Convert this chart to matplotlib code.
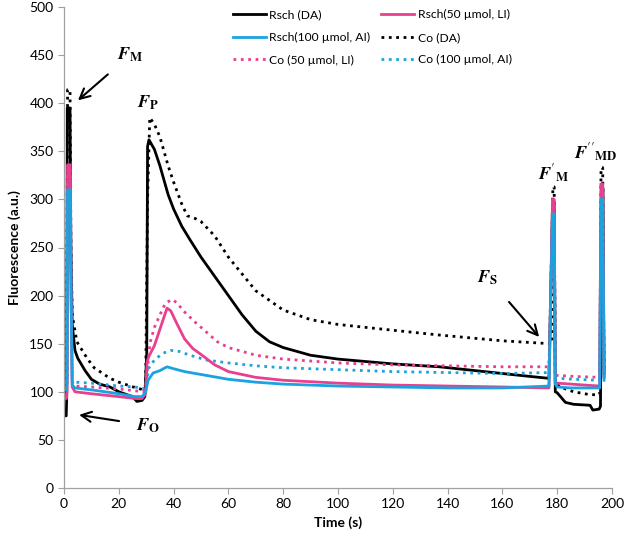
import matplotlib
matplotlib.use("Agg")
import matplotlib.pyplot as plt

plt.rcParams['font.family'] = ['Lato', 'DejaVu Sans']
plt.rcParams['mathtext.fontset'] = 'stix'

# ---- data (time in s, fluorescence in a.u.) ----
t_rsch_da = [0, 0.8, 1.0, 1.2, 2.2, 2.5, 3, 4, 5, 7.7, 10, 13, 16.8, 20, 25, 26.6, 28.5, 29.5, 30.2, 30.5, 31, 33, 35, 38, 40, 43, 46, 50, 55, 60, 65, 70, 75, 80, 90, 100, 120, 137, 160, 170, 177, 178.3, 178.9, 179.3, 180, 183, 186, 192, 193, 195.3, 195.8, 196.2, 196.7, 197.1]
y_rsch_da = [75, 75, 95, 395, 395, 250, 170, 143, 135, 122, 113, 108, 105, 100, 95, 90, 91, 95, 140, 355, 362, 352, 335, 305, 290, 272, 258, 240, 220, 200, 180, 163, 152, 146, 138, 134, 129, 126, 119, 116, 114, 295, 295, 100, 99, 89, 87, 86, 81, 82, 85, 312, 312, 120]

t_rsch_50 = [0, 0.9, 1.1, 1.3, 2.3, 2.6, 3, 4, 10, 20, 26, 28.5, 29.8, 30.3, 31, 33, 35, 37.6, 39, 41, 44, 47, 50.4, 55, 60, 70, 80, 100, 120, 140, 160, 177, 178.3, 178.9, 179.3, 180, 185, 190, 195.5, 196.0, 196.6, 197.1]
y_rsch_50 = [93, 93, 100, 336, 336, 200, 105, 100, 98, 95, 93, 93, 98, 131, 137, 148, 165, 187, 184, 172, 155, 145, 138, 128, 121, 115, 112, 109, 107, 106, 105, 104, 300, 300, 109, 109, 108, 107, 106, 316, 316, 115]

t_rsch_100 = [0, 0.9, 1.1, 1.3, 2.3, 2.6, 3, 4, 10, 20, 26, 28.5, 29.8, 30.7, 32.5, 35, 37.6, 40, 44, 48, 52, 60, 70, 80, 100, 120, 140, 160, 177, 178.3, 178.9, 179.3, 180, 185, 190, 195.5, 196.0, 196.6, 197.1]
y_rsch_100 = [102, 102, 110, 310, 310, 200, 107, 104, 102, 98, 95, 95, 100, 112, 119.5, 122, 126, 124, 121, 119, 117, 113, 110, 108, 106, 105, 104, 104, 106, 285, 285, 108, 105, 104, 104, 104, 300, 300, 112]

t_co_da = [0, 0.8, 1.0, 1.3, 2.2, 2.5, 3, 4.7, 8.4, 11, 16.8, 20, 25.3, 29, 29.8, 30.5, 31.3, 33, 35, 38, 40, 43, 45, 48, 50, 55, 60, 70, 80, 90, 100, 120, 137, 160, 177.5, 178.1, 178.4, 178.9, 179.3, 181, 186, 192, 195.5, 196.0, 196.6, 197.1]
y_co_da = [100, 100, 110, 414, 414, 260, 180, 152, 135, 125, 114, 110, 105, 102, 105, 300, 385, 378, 365, 335, 318, 295, 283, 280, 277, 262, 240, 205, 185, 175, 170, 164, 159, 153, 150, 150, 313, 313, 110, 105, 100, 97, 97, 333, 333, 118]

t_co_50 = [0, 0.9, 1.1, 1.3, 2.3, 2.6, 3, 4, 10, 20, 26, 29, 29.8, 31.4, 33, 35, 37, 39.4, 41, 44, 48, 52, 56, 60, 70, 80, 100, 120, 140, 160, 177, 178.3, 178.9, 179.3, 181, 186, 195.5, 196.0, 196.6, 197.1]
y_co_50 = [103, 103, 110, 330, 330, 200, 110, 106, 105, 103, 101, 100, 105, 151, 167, 180, 192, 196, 193, 183, 172, 162, 152, 146, 138, 134, 130, 128, 127, 126, 126, 298, 298, 117, 117, 116, 115, 318, 318, 115]

t_co_100 = [0, 0.9, 1.1, 1.3, 2.3, 2.6, 3, 4, 10, 20, 26, 29, 29.8, 31, 33, 36, 39, 42, 46, 52, 60, 70, 80, 100, 120, 140, 160, 177, 178.3, 178.9, 179.3, 181, 186, 195.5, 196.0, 196.6, 197.1]
y_co_100 = [110, 110, 115, 320, 320, 200, 112, 110, 109, 106, 105, 103, 107, 125, 133, 140, 143, 142, 138, 133, 130, 127, 125, 123, 121, 120, 119, 120, 290, 290, 114, 114, 113, 112, 305, 305, 114]

labels = ['Rsch (DA)', 'Rsch(50 µmol, LI)', 'Rsch(100 µmol, AI)',
          'Co (DA)', 'Co (50 µmol, LI)', 'Co (100 µmol, AI)']

PINK = '#E8408E'
BLUE = '#1BA3E0'

fig = plt.figure(figsize=(6.24, 5.38), dpi=100)
ax = fig.add_axes([64/624, 50/538, 548/624, 481/538])

lw = 2.0
h1, = ax.plot(t_rsch_da, y_rsch_da, color='black', lw=lw, label=labels[0])
h4, = ax.plot(t_co_da, y_co_da, color='black', lw=lw, ls=':', label=labels[3])
h5, = ax.plot(t_co_50, y_co_50, color=PINK, lw=lw, ls=':', label=labels[4])
h6, = ax.plot(t_co_100, y_co_100, color=BLUE, lw=lw, ls=':', label=labels[5])
h2, = ax.plot(t_rsch_50, y_rsch_50, color=PINK, lw=lw, label=labels[1])
h3, = ax.plot(t_rsch_100, y_rsch_100, color=BLUE, lw=lw, label=labels[2])

ax.set_xlim(0, 200)
ax.set_ylim(0, 500)
ax.set_xticks(range(0, 201, 20))
ax.set_yticks(range(0, 501, 50))
for s in ['top', 'right']:
    ax.spines[s].set_visible(False)
for s in ['left', 'bottom']:
    ax.spines[s].set_color('#A0A0A0')
    ax.spines[s].set_linewidth(0.9)
ax.tick_params(axis='both', colors='#A0A0A0', labelcolor='black', labelsize=10, length=4, direction='out')
ax.set_xlabel('Time (s)', fontsize=10, fontweight='bold')
ax.set_ylabel('Fluorescence (a.u.)', fontsize=10, fontweight='bold', labelpad=6)

leg = ax.legend([h1, h3, h5, h2, h4, h6],
                [labels[0], labels[2], labels[4], labels[1], labels[3], labels[5]],
                ncol=2, loc='upper left', bbox_to_anchor=(0.30, 1.005), frameon=False,
                fontsize=8.7, handlelength=2.7, handletextpad=0.3, columnspacing=0.9,
                labelspacing=0.95, borderaxespad=0)

ann_kw = dict(fontsize=13, ha='center', va='center')
ax.annotate(r'$\mathbfit{F}_{\mathbf{M}}$', xy=(5.1, 403), xytext=(24.1, 450),
            arrowprops=dict(arrowstyle='->', color='black', lw=1.5,
                            shrinkA=8, shrinkB=0, mutation_scale=18), **ann_kw)
ax.text(30.7, 400, r'$\mathbfit{F}_{\mathbf{P}}$', **ann_kw)
ax.annotate(r'$\mathbfit{F}_{\mathbf{O}}$', xy=(5.5, 76), xytext=(30.5, 65),
            arrowprops=dict(arrowstyle='->', color='black', lw=1.5,
                            shrinkA=10, shrinkB=0, mutation_scale=18), **ann_kw)
ax.annotate(r'$\mathbfit{F}_{\mathbf{S}}$', xy=(173.4, 157), xytext=(154.7, 219),
            arrowprops=dict(arrowstyle='->', color='black', lw=1.5,
                            shrinkA=12, shrinkB=0, mutation_scale=18), **ann_kw)
ax.text(178.5, 327, r"$\mathbfit{F}'_{\mathbf{M}}$", **ann_kw)
ax.text(194.0, 348, r"$\mathbfit{F}''_{\mathbf{MD}}$", **ann_kw)

fig.savefig('out.png', dpi=100)
